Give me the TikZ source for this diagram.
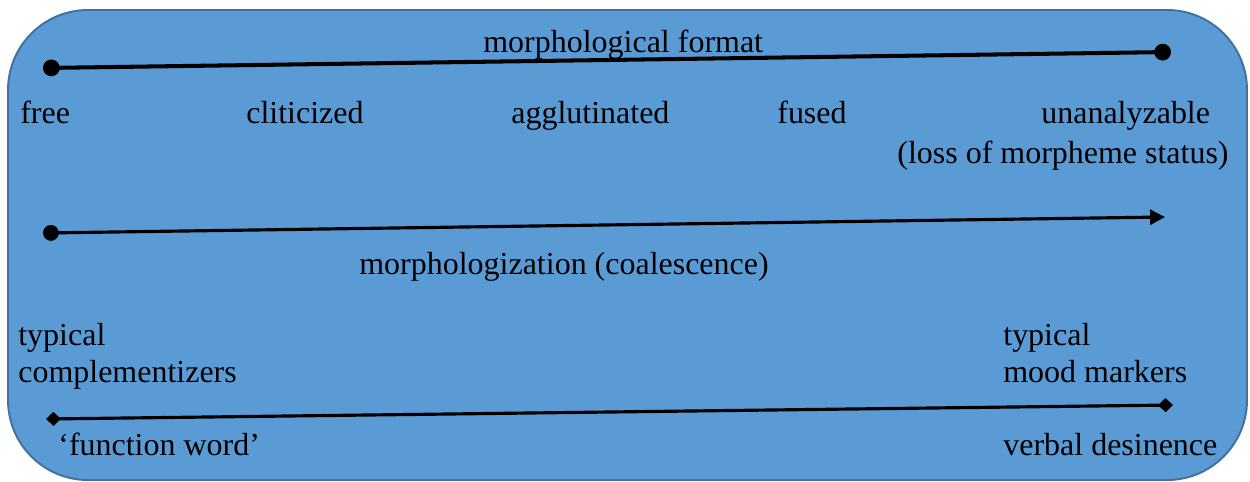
\documentclass[tikz,border=0pt]{standalone}
\usepackage{fontspec}
\setmainfont{Liberation Serif}
\usepackage{tikz}
\usetikzlibrary{arrows.meta, positioning}
\definecolor{boxFill}{HTML}{5B9BD5}
\definecolor{boxEdge}{HTML}{41719C}

\begin{document}
\begin{tikzpicture}[x=0.02cm, y=-0.02cm,
    every node/.style={inner sep=0pt, font=\fontsize{18.2}{21}\selectfont},
    lbl/.style={anchor=base west},
    scaleline/.style={draw=black, line width=1.8pt}]
  \useasboundingbox (0,0) rectangle (1250,481);
  \draw[fill=boxFill, draw=boxEdge, line width=1.1pt, rounded corners=1.6cm]
    (8,10) rectangle (1247,480);

  % morphological format
  \coordinate (fmtL) at (43,68);
  \coordinate (fmtR) at (1171,52);
  \draw[scaleline, line width=2.3pt, {Circle[length=9.5pt]}-{Circle[length=9.5pt]}] (fmtL) -- (fmtR);
  \node[lbl] (fmt) at (483,52) {morphological format};
  \foreach \x/\t [count=\i] in {20/free, 246/cliticized, 511/agglutinated, 777/fused, 1041/unanalyzable} {
    \node[lbl] (stage\i) at (\x,123) {\t};
  }
  \node[lbl] (loss) at (897,163) {(loss of morpheme status)};

  % morphologization
  \coordinate (morL) at (43,233);
  \coordinate (morR) at (1165,217);
  \draw[scaleline, {Circle[length=9pt]}-{Triangle[length=8.5pt, width=8.5pt]}] (morL) -- (morR);
  \node[lbl] (mor) at (359,274) {morphologization (coalescence)};

  % typical examples
  \node[lbl] (comp1) at (18,345) {typical};
  \node[lbl] (comp2) at (18,382) {complementizers};
  \node[lbl] (mood1) at (1003,345) {typical};
  \node[lbl] (mood2) at (1003,382) {mood markers};
  \coordinate (exL) at (46,419);
  \coordinate (exR) at (1173,405);
  \draw[scaleline, {Diamond[length=8.5pt, width=8pt]}-{Diamond[length=8.5pt, width=8pt]}] (exL) -- (exR);
  \node[lbl] (fw) at (58,455) {‘function word’};
  \node[lbl] (vd) at (1003,455) {verbal desinence};
\end{tikzpicture}
\end{document}
